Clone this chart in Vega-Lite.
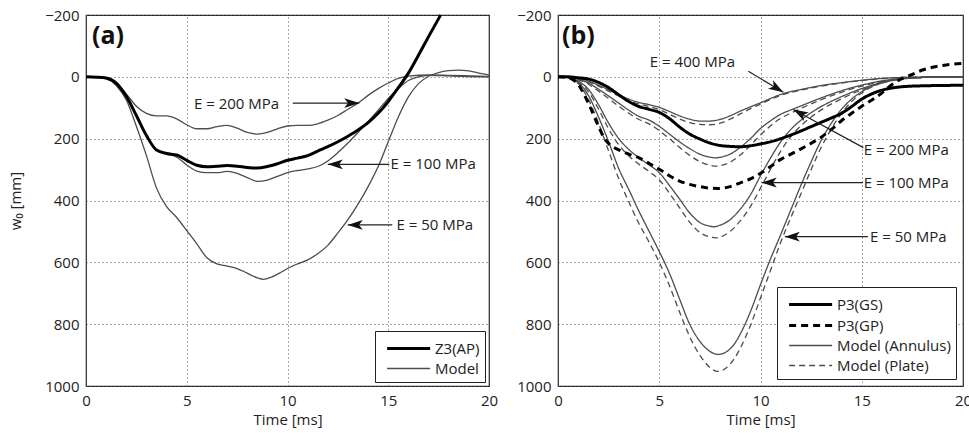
{
  "$schema": "https://vega.github.io/schema/vega-lite/v6.json",
  "padding": {"left": 8, "top": 7, "right": 0, "bottom": 0},
  "background": "white",
  "config": {
    "font": "Open Sans",
    "view": {"stroke": "#222", "strokeWidth": 1.2},
    "axis": {"labelFont": "Open Sans", "titleFont": "Open Sans", "labelFontSize": 15, "titleFontSize": 15, "titleFontWeight": "normal", "labelColor": "#222", "titleColor": "#222", "grid": true, "gridDash": [1, 3], "gridColor": "#555", "gridOpacity": 1, "ticks": false, "domain": false, "labelFlush": false, "labelOverlap": false, "format": "d"},
    "legend": {"title": null, "orient": "bottom-right", "strokeColor": "#222", "fillColor": "white", "padding": 5, "symbolType": "M-0.5,0H3.5", "symbolSize": 462, "labelFontSize": 15, "labelFont": "Open Sans", "labelColor": "#222", "rowPadding": 0, "labelOffset": 30}
  },
  "datasets": {
    "a": [
      {"s":"Model","c":"m200","x":0,"y":0},{"s":"Model","c":"m200","x":0.5,"y":1},{"s":"Model","c":"m200","x":1,"y":4},{"s":"Model","c":"m200","x":1.5,"y":18},{"s":"Model","c":"m200","x":2,"y":55},{"s":"Model","c":"m200","x":2.5,"y":95},{"s":"Model","c":"m200","x":3,"y":118},{"s":"Model","c":"m200","x":3.5,"y":126},{"s":"Model","c":"m200","x":4,"y":126},{"s":"Model","c":"m200","x":4.5,"y":136},{"s":"Model","c":"m200","x":5,"y":155},{"s":"Model","c":"m200","x":5.5,"y":168},{"s":"Model","c":"m200","x":6,"y":168},{"s":"Model","c":"m200","x":6.5,"y":161},{"s":"Model","c":"m200","x":7,"y":157},{"s":"Model","c":"m200","x":7.5,"y":166},{"s":"Model","c":"m200","x":8,"y":180},{"s":"Model","c":"m200","x":8.5,"y":185},{"s":"Model","c":"m200","x":9,"y":180},{"s":"Model","c":"m200","x":9.5,"y":168},{"s":"Model","c":"m200","x":10,"y":159},{"s":"Model","c":"m200","x":10.5,"y":157},{"s":"Model","c":"m200","x":11,"y":157},{"s":"Model","c":"m200","x":11.5,"y":152},{"s":"Model","c":"m200","x":12,"y":140},{"s":"Model","c":"m200","x":12.5,"y":125},{"s":"Model","c":"m200","x":13,"y":105},{"s":"Model","c":"m200","x":13.5,"y":85},{"s":"Model","c":"m200","x":14,"y":60},{"s":"Model","c":"m200","x":14.5,"y":38},{"s":"Model","c":"m200","x":15,"y":20},{"s":"Model","c":"m200","x":15.5,"y":5},{"s":"Model","c":"m200","x":16,"y":-2},{"s":"Model","c":"m200","x":17,"y":-6},{"s":"Model","c":"m200","x":18,"y":-5},{"s":"Model","c":"m200","x":19,"y":-3},{"s":"Model","c":"m200","x":20,"y":-1},
      {"s":"Model","c":"m100","x":0,"y":0},{"s":"Model","c":"m100","x":0.5,"y":1},{"s":"Model","c":"m100","x":1,"y":4},{"s":"Model","c":"m100","x":1.5,"y":20},{"s":"Model","c":"m100","x":2,"y":63},{"s":"Model","c":"m100","x":2.5,"y":125},{"s":"Model","c":"m100","x":3,"y":190},{"s":"Model","c":"m100","x":3.5,"y":236},{"s":"Model","c":"m100","x":4,"y":249},{"s":"Model","c":"m100","x":4.5,"y":260},{"s":"Model","c":"m100","x":5,"y":285},{"s":"Model","c":"m100","x":5.5,"y":305},{"s":"Model","c":"m100","x":6,"y":310},{"s":"Model","c":"m100","x":6.5,"y":310},{"s":"Model","c":"m100","x":7,"y":306},{"s":"Model","c":"m100","x":7.5,"y":312},{"s":"Model","c":"m100","x":8,"y":326},{"s":"Model","c":"m100","x":8.5,"y":338},{"s":"Model","c":"m100","x":9,"y":334},{"s":"Model","c":"m100","x":9.5,"y":322},{"s":"Model","c":"m100","x":10,"y":310},{"s":"Model","c":"m100","x":10.5,"y":303},{"s":"Model","c":"m100","x":11,"y":298},{"s":"Model","c":"m100","x":11.5,"y":290},{"s":"Model","c":"m100","x":12,"y":272},{"s":"Model","c":"m100","x":12.5,"y":245},{"s":"Model","c":"m100","x":13,"y":214},{"s":"Model","c":"m100","x":13.5,"y":180},{"s":"Model","c":"m100","x":14,"y":145},{"s":"Model","c":"m100","x":14.5,"y":108},{"s":"Model","c":"m100","x":15,"y":70},{"s":"Model","c":"m100","x":15.5,"y":38},{"s":"Model","c":"m100","x":16,"y":12},{"s":"Model","c":"m100","x":16.5,"y":0},{"s":"Model","c":"m100","x":17,"y":-5},{"s":"Model","c":"m100","x":18,"y":-3},{"s":"Model","c":"m100","x":19,"y":-1},{"s":"Model","c":"m100","x":20,"y":0},
      {"s":"Model","c":"m50","x":0,"y":0},{"s":"Model","c":"m50","x":0.5,"y":1},{"s":"Model","c":"m50","x":1,"y":6},{"s":"Model","c":"m50","x":1.5,"y":28},{"s":"Model","c":"m50","x":2,"y":75},{"s":"Model","c":"m50","x":2.5,"y":160},{"s":"Model","c":"m50","x":3,"y":255},{"s":"Model","c":"m50","x":3.5,"y":360},{"s":"Model","c":"m50","x":4,"y":420},{"s":"Model","c":"m50","x":4.5,"y":455},{"s":"Model","c":"m50","x":5,"y":497},{"s":"Model","c":"m50","x":5.5,"y":540},{"s":"Model","c":"m50","x":6,"y":585},{"s":"Model","c":"m50","x":6.5,"y":605},{"s":"Model","c":"m50","x":7,"y":612},{"s":"Model","c":"m50","x":7.5,"y":620},{"s":"Model","c":"m50","x":8,"y":635},{"s":"Model","c":"m50","x":8.5,"y":650},{"s":"Model","c":"m50","x":8.8,"y":655},{"s":"Model","c":"m50","x":9.2,"y":648},{"s":"Model","c":"m50","x":9.6,"y":635},{"s":"Model","c":"m50","x":10,"y":620},{"s":"Model","c":"m50","x":10.5,"y":605},{"s":"Model","c":"m50","x":11,"y":592},{"s":"Model","c":"m50","x":11.5,"y":572},{"s":"Model","c":"m50","x":12,"y":545},{"s":"Model","c":"m50","x":12.5,"y":505},{"s":"Model","c":"m50","x":13,"y":462},{"s":"Model","c":"m50","x":13.5,"y":412},{"s":"Model","c":"m50","x":14,"y":355},{"s":"Model","c":"m50","x":14.5,"y":290},{"s":"Model","c":"m50","x":15,"y":210},{"s":"Model","c":"m50","x":15.5,"y":130},{"s":"Model","c":"m50","x":16,"y":65},{"s":"Model","c":"m50","x":16.5,"y":22},{"s":"Model","c":"m50","x":17,"y":-2},{"s":"Model","c":"m50","x":17.5,"y":-14},{"s":"Model","c":"m50","x":18,"y":-20},{"s":"Model","c":"m50","x":18.5,"y":-22},{"s":"Model","c":"m50","x":19,"y":-19},{"s":"Model","c":"m50","x":19.5,"y":-12},{"s":"Model","c":"m50","x":20,"y":-6},
      {"s":"Z3(AP)","c":"z3","x":0,"y":0},{"s":"Z3(AP)","c":"z3","x":0.5,"y":1},{"s":"Z3(AP)","c":"z3","x":1,"y":4},{"s":"Z3(AP)","c":"z3","x":1.5,"y":20},{"s":"Z3(AP)","c":"z3","x":2,"y":63},{"s":"Z3(AP)","c":"z3","x":2.5,"y":125},{"s":"Z3(AP)","c":"z3","x":3,"y":190},{"s":"Z3(AP)","c":"z3","x":3.5,"y":237},{"s":"Z3(AP)","c":"z3","x":4,"y":248},{"s":"Z3(AP)","c":"z3","x":4.5,"y":253},{"s":"Z3(AP)","c":"z3","x":5,"y":270},{"s":"Z3(AP)","c":"z3","x":5.5,"y":286},{"s":"Z3(AP)","c":"z3","x":6,"y":291},{"s":"Z3(AP)","c":"z3","x":6.5,"y":289},{"s":"Z3(AP)","c":"z3","x":7,"y":287},{"s":"Z3(AP)","c":"z3","x":7.5,"y":289},{"s":"Z3(AP)","c":"z3","x":8,"y":293},{"s":"Z3(AP)","c":"z3","x":8.5,"y":295},{"s":"Z3(AP)","c":"z3","x":9,"y":290},{"s":"Z3(AP)","c":"z3","x":9.5,"y":281},{"s":"Z3(AP)","c":"z3","x":10,"y":270},{"s":"Z3(AP)","c":"z3","x":10.5,"y":263},{"s":"Z3(AP)","c":"z3","x":11,"y":255},{"s":"Z3(AP)","c":"z3","x":11.5,"y":240},{"s":"Z3(AP)","c":"z3","x":12,"y":226},{"s":"Z3(AP)","c":"z3","x":12.5,"y":210},{"s":"Z3(AP)","c":"z3","x":13,"y":192},{"s":"Z3(AP)","c":"z3","x":13.5,"y":172},{"s":"Z3(AP)","c":"z3","x":14,"y":148},{"s":"Z3(AP)","c":"z3","x":14.5,"y":118},{"s":"Z3(AP)","c":"z3","x":15,"y":80},{"s":"Z3(AP)","c":"z3","x":15.5,"y":35},{"s":"Z3(AP)","c":"z3","x":16,"y":-12},{"s":"Z3(AP)","c":"z3","x":16.5,"y":-70},{"s":"Z3(AP)","c":"z3","x":17,"y":-130},{"s":"Z3(AP)","c":"z3","x":17.6,"y":-200}
    ],
    "b": [
      {"s":"Model (Annulus)","c":"a400","x":0,"y":0},{"s":"Model (Annulus)","c":"a400","x":0.5,"y":1},{"s":"Model (Annulus)","c":"a400","x":1,"y":5},{"s":"Model (Annulus)","c":"a400","x":1.5,"y":14},{"s":"Model (Annulus)","c":"a400","x":2,"y":27},{"s":"Model (Annulus)","c":"a400","x":2.5,"y":42},{"s":"Model (Annulus)","c":"a400","x":3,"y":58},{"s":"Model (Annulus)","c":"a400","x":3.5,"y":72},{"s":"Model (Annulus)","c":"a400","x":4,"y":83},{"s":"Model (Annulus)","c":"a400","x":4.5,"y":90},{"s":"Model (Annulus)","c":"a400","x":5,"y":99},{"s":"Model (Annulus)","c":"a400","x":5.5,"y":112},{"s":"Model (Annulus)","c":"a400","x":6,"y":126},{"s":"Model (Annulus)","c":"a400","x":6.5,"y":137},{"s":"Model (Annulus)","c":"a400","x":7,"y":143},{"s":"Model (Annulus)","c":"a400","x":7.5,"y":143},{"s":"Model (Annulus)","c":"a400","x":8,"y":138},{"s":"Model (Annulus)","c":"a400","x":8.5,"y":126},{"s":"Model (Annulus)","c":"a400","x":9,"y":111},{"s":"Model (Annulus)","c":"a400","x":9.5,"y":97},{"s":"Model (Annulus)","c":"a400","x":10,"y":84},{"s":"Model (Annulus)","c":"a400","x":10.5,"y":70},{"s":"Model (Annulus)","c":"a400","x":11,"y":57},{"s":"Model (Annulus)","c":"a400","x":11.5,"y":48},{"s":"Model (Annulus)","c":"a400","x":12,"y":41},{"s":"Model (Annulus)","c":"a400","x":13,"y":28},{"s":"Model (Annulus)","c":"a400","x":14,"y":19},{"s":"Model (Annulus)","c":"a400","x":15,"y":11},{"s":"Model (Annulus)","c":"a400","x":16,"y":5},{"s":"Model (Annulus)","c":"a400","x":17,"y":2},{"s":"Model (Annulus)","c":"a400","x":18,"y":1},{"s":"Model (Annulus)","c":"a400","x":20,"y":0},
      {"s":"Model (Plate)","c":"p400","x":0,"y":0},{"s":"Model (Plate)","c":"p400","x":1,"y":6},{"s":"Model (Plate)","c":"p400","x":1.5,"y":16},{"s":"Model (Plate)","c":"p400","x":2,"y":30},{"s":"Model (Plate)","c":"p400","x":2.5,"y":46},{"s":"Model (Plate)","c":"p400","x":3,"y":62},{"s":"Model (Plate)","c":"p400","x":3.5,"y":77},{"s":"Model (Plate)","c":"p400","x":4,"y":88},{"s":"Model (Plate)","c":"p400","x":4.5,"y":96},{"s":"Model (Plate)","c":"p400","x":5,"y":106},{"s":"Model (Plate)","c":"p400","x":5.5,"y":121},{"s":"Model (Plate)","c":"p400","x":6,"y":136},{"s":"Model (Plate)","c":"p400","x":6.5,"y":148},{"s":"Model (Plate)","c":"p400","x":7,"y":154},{"s":"Model (Plate)","c":"p400","x":7.5,"y":155},{"s":"Model (Plate)","c":"p400","x":8,"y":150},{"s":"Model (Plate)","c":"p400","x":8.5,"y":137},{"s":"Model (Plate)","c":"p400","x":9,"y":120},{"s":"Model (Plate)","c":"p400","x":9.5,"y":103},{"s":"Model (Plate)","c":"p400","x":10,"y":88},{"s":"Model (Plate)","c":"p400","x":10.5,"y":73},{"s":"Model (Plate)","c":"p400","x":11,"y":60},{"s":"Model (Plate)","c":"p400","x":12,"y":43},{"s":"Model (Plate)","c":"p400","x":13,"y":30},{"s":"Model (Plate)","c":"p400","x":14,"y":20},{"s":"Model (Plate)","c":"p400","x":15,"y":12},{"s":"Model (Plate)","c":"p400","x":16,"y":6},{"s":"Model (Plate)","c":"p400","x":17,"y":2},{"s":"Model (Plate)","c":"p400","x":18,"y":1},{"s":"Model (Plate)","c":"p400","x":20,"y":0},
      {"s":"Model (Annulus)","c":"a200","x":0,"y":0},{"s":"Model (Annulus)","c":"a200","x":0.5,"y":1},{"s":"Model (Annulus)","c":"a200","x":1,"y":8},{"s":"Model (Annulus)","c":"a200","x":1.5,"y":20},{"s":"Model (Annulus)","c":"a200","x":2,"y":40},{"s":"Model (Annulus)","c":"a200","x":2.5,"y":62},{"s":"Model (Annulus)","c":"a200","x":3,"y":85},{"s":"Model (Annulus)","c":"a200","x":3.5,"y":108},{"s":"Model (Annulus)","c":"a200","x":4,"y":128},{"s":"Model (Annulus)","c":"a200","x":4.5,"y":140},{"s":"Model (Annulus)","c":"a200","x":5,"y":160},{"s":"Model (Annulus)","c":"a200","x":5.5,"y":185},{"s":"Model (Annulus)","c":"a200","x":6,"y":210},{"s":"Model (Annulus)","c":"a200","x":6.5,"y":232},{"s":"Model (Annulus)","c":"a200","x":7,"y":250},{"s":"Model (Annulus)","c":"a200","x":7.5,"y":260},{"s":"Model (Annulus)","c":"a200","x":7.8,"y":262},{"s":"Model (Annulus)","c":"a200","x":8.2,"y":257},{"s":"Model (Annulus)","c":"a200","x":8.5,"y":250},{"s":"Model (Annulus)","c":"a200","x":9,"y":228},{"s":"Model (Annulus)","c":"a200","x":9.5,"y":200},{"s":"Model (Annulus)","c":"a200","x":10,"y":167},{"s":"Model (Annulus)","c":"a200","x":10.5,"y":142},{"s":"Model (Annulus)","c":"a200","x":11,"y":121},{"s":"Model (Annulus)","c":"a200","x":11.5,"y":107},{"s":"Model (Annulus)","c":"a200","x":12,"y":94},{"s":"Model (Annulus)","c":"a200","x":13,"y":68},{"s":"Model (Annulus)","c":"a200","x":14,"y":45},{"s":"Model (Annulus)","c":"a200","x":15,"y":27},{"s":"Model (Annulus)","c":"a200","x":16,"y":13},{"s":"Model (Annulus)","c":"a200","x":17,"y":5},{"s":"Model (Annulus)","c":"a200","x":18,"y":2},{"s":"Model (Annulus)","c":"a200","x":20,"y":0},
      {"s":"Model (Plate)","c":"p200","x":0,"y":0},{"s":"Model (Plate)","c":"p200","x":1,"y":10},{"s":"Model (Plate)","c":"p200","x":1.5,"y":24},{"s":"Model (Plate)","c":"p200","x":2,"y":46},{"s":"Model (Plate)","c":"p200","x":2.5,"y":70},{"s":"Model (Plate)","c":"p200","x":3,"y":95},{"s":"Model (Plate)","c":"p200","x":3.5,"y":118},{"s":"Model (Plate)","c":"p200","x":4,"y":138},{"s":"Model (Plate)","c":"p200","x":4.5,"y":152},{"s":"Model (Plate)","c":"p200","x":5,"y":174},{"s":"Model (Plate)","c":"p200","x":5.5,"y":200},{"s":"Model (Plate)","c":"p200","x":6,"y":228},{"s":"Model (Plate)","c":"p200","x":6.5,"y":254},{"s":"Model (Plate)","c":"p200","x":7,"y":274},{"s":"Model (Plate)","c":"p200","x":7.5,"y":286},{"s":"Model (Plate)","c":"p200","x":7.8,"y":289},{"s":"Model (Plate)","c":"p200","x":8.2,"y":284},{"s":"Model (Plate)","c":"p200","x":8.5,"y":276},{"s":"Model (Plate)","c":"p200","x":9,"y":253},{"s":"Model (Plate)","c":"p200","x":9.5,"y":222},{"s":"Model (Plate)","c":"p200","x":10,"y":188},{"s":"Model (Plate)","c":"p200","x":10.5,"y":158},{"s":"Model (Plate)","c":"p200","x":11,"y":134},{"s":"Model (Plate)","c":"p200","x":11.5,"y":117},{"s":"Model (Plate)","c":"p200","x":12,"y":102},{"s":"Model (Plate)","c":"p200","x":13,"y":74},{"s":"Model (Plate)","c":"p200","x":14,"y":50},{"s":"Model (Plate)","c":"p200","x":15,"y":30},{"s":"Model (Plate)","c":"p200","x":16,"y":15},{"s":"Model (Plate)","c":"p200","x":17,"y":6},{"s":"Model (Plate)","c":"p200","x":18,"y":2},{"s":"Model (Plate)","c":"p200","x":20,"y":0},
      {"s":"Model (Annulus)","c":"a100","x":0,"y":0},{"s":"Model (Annulus)","c":"a100","x":0.5,"y":2},{"s":"Model (Annulus)","c":"a100","x":1,"y":14},{"s":"Model (Annulus)","c":"a100","x":1.5,"y":40},{"s":"Model (Annulus)","c":"a100","x":2,"y":90},{"s":"Model (Annulus)","c":"a100","x":2.5,"y":150},{"s":"Model (Annulus)","c":"a100","x":3,"y":200},{"s":"Model (Annulus)","c":"a100","x":3.5,"y":235},{"s":"Model (Annulus)","c":"a100","x":4,"y":262},{"s":"Model (Annulus)","c":"a100","x":4.5,"y":285},{"s":"Model (Annulus)","c":"a100","x":5,"y":310},{"s":"Model (Annulus)","c":"a100","x":5.5,"y":351},{"s":"Model (Annulus)","c":"a100","x":6,"y":395},{"s":"Model (Annulus)","c":"a100","x":6.5,"y":440},{"s":"Model (Annulus)","c":"a100","x":7,"y":471},{"s":"Model (Annulus)","c":"a100","x":7.5,"y":483},{"s":"Model (Annulus)","c":"a100","x":7.7,"y":485},{"s":"Model (Annulus)","c":"a100","x":8,"y":480},{"s":"Model (Annulus)","c":"a100","x":8.5,"y":462},{"s":"Model (Annulus)","c":"a100","x":9,"y":428},{"s":"Model (Annulus)","c":"a100","x":9.5,"y":382},{"s":"Model (Annulus)","c":"a100","x":10,"y":320},{"s":"Model (Annulus)","c":"a100","x":10.5,"y":262},{"s":"Model (Annulus)","c":"a100","x":11,"y":210},{"s":"Model (Annulus)","c":"a100","x":11.5,"y":170},{"s":"Model (Annulus)","c":"a100","x":12,"y":140},{"s":"Model (Annulus)","c":"a100","x":12.5,"y":116},{"s":"Model (Annulus)","c":"a100","x":13,"y":96},{"s":"Model (Annulus)","c":"a100","x":14,"y":64},{"s":"Model (Annulus)","c":"a100","x":15,"y":38},{"s":"Model (Annulus)","c":"a100","x":16,"y":18},{"s":"Model (Annulus)","c":"a100","x":17,"y":6},{"s":"Model (Annulus)","c":"a100","x":18,"y":2},{"s":"Model (Annulus)","c":"a100","x":20,"y":0},
      {"s":"Model (Plate)","c":"p100","x":0,"y":0},{"s":"Model (Plate)","c":"p100","x":0.5,"y":3},{"s":"Model (Plate)","c":"p100","x":1,"y":17},{"s":"Model (Plate)","c":"p100","x":1.5,"y":48},{"s":"Model (Plate)","c":"p100","x":2,"y":104},{"s":"Model (Plate)","c":"p100","x":2.5,"y":168},{"s":"Model (Plate)","c":"p100","x":3,"y":220},{"s":"Model (Plate)","c":"p100","x":3.5,"y":256},{"s":"Model (Plate)","c":"p100","x":4,"y":283},{"s":"Model (Plate)","c":"p100","x":4.5,"y":306},{"s":"Model (Plate)","c":"p100","x":5,"y":333},{"s":"Model (Plate)","c":"p100","x":5.5,"y":376},{"s":"Model (Plate)","c":"p100","x":6,"y":423},{"s":"Model (Plate)","c":"p100","x":6.5,"y":470},{"s":"Model (Plate)","c":"p100","x":7,"y":503},{"s":"Model (Plate)","c":"p100","x":7.5,"y":518},{"s":"Model (Plate)","c":"p100","x":7.8,"y":521},{"s":"Model (Plate)","c":"p100","x":8.1,"y":516},{"s":"Model (Plate)","c":"p100","x":8.5,"y":500},{"s":"Model (Plate)","c":"p100","x":9,"y":466},{"s":"Model (Plate)","c":"p100","x":9.5,"y":420},{"s":"Model (Plate)","c":"p100","x":10,"y":360},{"s":"Model (Plate)","c":"p100","x":10.5,"y":298},{"s":"Model (Plate)","c":"p100","x":11,"y":240},{"s":"Model (Plate)","c":"p100","x":11.5,"y":193},{"s":"Model (Plate)","c":"p100","x":12,"y":158},{"s":"Model (Plate)","c":"p100","x":12.5,"y":130},{"s":"Model (Plate)","c":"p100","x":13,"y":107},{"s":"Model (Plate)","c":"p100","x":14,"y":71},{"s":"Model (Plate)","c":"p100","x":15,"y":42},{"s":"Model (Plate)","c":"p100","x":16,"y":20},{"s":"Model (Plate)","c":"p100","x":17,"y":7},{"s":"Model (Plate)","c":"p100","x":18,"y":2},{"s":"Model (Plate)","c":"p100","x":20,"y":0},
      {"s":"Model (Annulus)","c":"a50","x":0,"y":0},{"s":"Model (Annulus)","c":"a50","x":0.5,"y":3},{"s":"Model (Annulus)","c":"a50","x":1,"y":18},{"s":"Model (Annulus)","c":"a50","x":1.5,"y":60},{"s":"Model (Annulus)","c":"a50","x":2,"y":130},{"s":"Model (Annulus)","c":"a50","x":2.5,"y":210},{"s":"Model (Annulus)","c":"a50","x":3,"y":297},{"s":"Model (Annulus)","c":"a50","x":3.5,"y":365},{"s":"Model (Annulus)","c":"a50","x":4,"y":435},{"s":"Model (Annulus)","c":"a50","x":4.5,"y":500},{"s":"Model (Annulus)","c":"a50","x":5,"y":565},{"s":"Model (Annulus)","c":"a50","x":5.5,"y":635},{"s":"Model (Annulus)","c":"a50","x":6,"y":718},{"s":"Model (Annulus)","c":"a50","x":6.5,"y":800},{"s":"Model (Annulus)","c":"a50","x":7,"y":855},{"s":"Model (Annulus)","c":"a50","x":7.5,"y":888},{"s":"Model (Annulus)","c":"a50","x":7.9,"y":898},{"s":"Model (Annulus)","c":"a50","x":8.3,"y":890},{"s":"Model (Annulus)","c":"a50","x":8.7,"y":865},{"s":"Model (Annulus)","c":"a50","x":9,"y":832},{"s":"Model (Annulus)","c":"a50","x":9.5,"y":760},{"s":"Model (Annulus)","c":"a50","x":10,"y":672},{"s":"Model (Annulus)","c":"a50","x":10.5,"y":588},{"s":"Model (Annulus)","c":"a50","x":11,"y":510},{"s":"Model (Annulus)","c":"a50","x":11.5,"y":430},{"s":"Model (Annulus)","c":"a50","x":12,"y":350},{"s":"Model (Annulus)","c":"a50","x":12.5,"y":275},{"s":"Model (Annulus)","c":"a50","x":13,"y":205},{"s":"Model (Annulus)","c":"a50","x":13.5,"y":150},{"s":"Model (Annulus)","c":"a50","x":14,"y":105},{"s":"Model (Annulus)","c":"a50","x":14.5,"y":72},{"s":"Model (Annulus)","c":"a50","x":15,"y":48},{"s":"Model (Annulus)","c":"a50","x":15.5,"y":30},{"s":"Model (Annulus)","c":"a50","x":16,"y":18},{"s":"Model (Annulus)","c":"a50","x":17,"y":6},{"s":"Model (Annulus)","c":"a50","x":18,"y":2},{"s":"Model (Annulus)","c":"a50","x":20,"y":0},
      {"s":"Model (Plate)","c":"p50","x":0,"y":0},{"s":"Model (Plate)","c":"p50","x":0.5,"y":4},{"s":"Model (Plate)","c":"p50","x":1,"y":22},{"s":"Model (Plate)","c":"p50","x":1.5,"y":72},{"s":"Model (Plate)","c":"p50","x":2,"y":150},{"s":"Model (Plate)","c":"p50","x":2.5,"y":240},{"s":"Model (Plate)","c":"p50","x":3,"y":330},{"s":"Model (Plate)","c":"p50","x":3.5,"y":405},{"s":"Model (Plate)","c":"p50","x":4,"y":475},{"s":"Model (Plate)","c":"p50","x":4.5,"y":535},{"s":"Model (Plate)","c":"p50","x":5,"y":600},{"s":"Model (Plate)","c":"p50","x":5.5,"y":675},{"s":"Model (Plate)","c":"p50","x":6,"y":760},{"s":"Model (Plate)","c":"p50","x":6.5,"y":840},{"s":"Model (Plate)","c":"p50","x":7,"y":900},{"s":"Model (Plate)","c":"p50","x":7.5,"y":940},{"s":"Model (Plate)","c":"p50","x":7.9,"y":953},{"s":"Model (Plate)","c":"p50","x":8.3,"y":942},{"s":"Model (Plate)","c":"p50","x":8.7,"y":912},{"s":"Model (Plate)","c":"p50","x":9,"y":878},{"s":"Model (Plate)","c":"p50","x":9.5,"y":805},{"s":"Model (Plate)","c":"p50","x":10,"y":715},{"s":"Model (Plate)","c":"p50","x":10.5,"y":625},{"s":"Model (Plate)","c":"p50","x":11,"y":535},{"s":"Model (Plate)","c":"p50","x":11.5,"y":455},{"s":"Model (Plate)","c":"p50","x":12,"y":378},{"s":"Model (Plate)","c":"p50","x":12.5,"y":300},{"s":"Model (Plate)","c":"p50","x":13,"y":228},{"s":"Model (Plate)","c":"p50","x":13.5,"y":168},{"s":"Model (Plate)","c":"p50","x":14,"y":118},{"s":"Model (Plate)","c":"p50","x":14.5,"y":80},{"s":"Model (Plate)","c":"p50","x":15,"y":52},{"s":"Model (Plate)","c":"p50","x":15.5,"y":33},{"s":"Model (Plate)","c":"p50","x":16,"y":20},{"s":"Model (Plate)","c":"p50","x":17,"y":7},{"s":"Model (Plate)","c":"p50","x":18,"y":2},{"s":"Model (Plate)","c":"p50","x":20,"y":0},
      {"s":"P3(GS)","c":"gs","x":0,"y":0},{"s":"P3(GS)","c":"gs","x":0.5,"y":0},{"s":"P3(GS)","c":"gs","x":1,"y":3},{"s":"P3(GS)","c":"gs","x":1.5,"y":7},{"s":"P3(GS)","c":"gs","x":2,"y":18},{"s":"P3(GS)","c":"gs","x":2.5,"y":35},{"s":"P3(GS)","c":"gs","x":3,"y":58},{"s":"P3(GS)","c":"gs","x":3.5,"y":80},{"s":"P3(GS)","c":"gs","x":4,"y":96},{"s":"P3(GS)","c":"gs","x":4.5,"y":105},{"s":"P3(GS)","c":"gs","x":5,"y":115},{"s":"P3(GS)","c":"gs","x":5.5,"y":135},{"s":"P3(GS)","c":"gs","x":6,"y":162},{"s":"P3(GS)","c":"gs","x":6.5,"y":185},{"s":"P3(GS)","c":"gs","x":7,"y":201},{"s":"P3(GS)","c":"gs","x":7.5,"y":214},{"s":"P3(GS)","c":"gs","x":8,"y":222},{"s":"P3(GS)","c":"gs","x":8.5,"y":225},{"s":"P3(GS)","c":"gs","x":9,"y":226},{"s":"P3(GS)","c":"gs","x":9.5,"y":223},{"s":"P3(GS)","c":"gs","x":10,"y":217},{"s":"P3(GS)","c":"gs","x":10.5,"y":210},{"s":"P3(GS)","c":"gs","x":11,"y":200},{"s":"P3(GS)","c":"gs","x":11.5,"y":188},{"s":"P3(GS)","c":"gs","x":12,"y":175},{"s":"P3(GS)","c":"gs","x":12.5,"y":161},{"s":"P3(GS)","c":"gs","x":13,"y":147},{"s":"P3(GS)","c":"gs","x":13.5,"y":133},{"s":"P3(GS)","c":"gs","x":14,"y":118},{"s":"P3(GS)","c":"gs","x":14.5,"y":96},{"s":"P3(GS)","c":"gs","x":15,"y":72},{"s":"P3(GS)","c":"gs","x":15.5,"y":55},{"s":"P3(GS)","c":"gs","x":16,"y":43},{"s":"P3(GS)","c":"gs","x":16.5,"y":36},{"s":"P3(GS)","c":"gs","x":17,"y":32},{"s":"P3(GS)","c":"gs","x":18,"y":29},{"s":"P3(GS)","c":"gs","x":19,"y":28},{"s":"P3(GS)","c":"gs","x":20,"y":27},
      {"s":"P3(GP)","c":"gp","x":0,"y":0},{"s":"P3(GP)","c":"gp","x":0.5,"y":3},{"s":"P3(GP)","c":"gp","x":0.8,"y":12},{"s":"P3(GP)","c":"gp","x":1,"y":25},{"s":"P3(GP)","c":"gp","x":1.3,"y":58},{"s":"P3(GP)","c":"gp","x":1.6,"y":100},{"s":"P3(GP)","c":"gp","x":2,"y":160},{"s":"P3(GP)","c":"gp","x":2.3,"y":200},{"s":"P3(GP)","c":"gp","x":2.6,"y":222},{"s":"P3(GP)","c":"gp","x":3,"y":236},{"s":"P3(GP)","c":"gp","x":3.5,"y":250},{"s":"P3(GP)","c":"gp","x":4,"y":262},{"s":"P3(GP)","c":"gp","x":4.5,"y":280},{"s":"P3(GP)","c":"gp","x":5,"y":299},{"s":"P3(GP)","c":"gp","x":5.5,"y":320},{"s":"P3(GP)","c":"gp","x":6,"y":337},{"s":"P3(GP)","c":"gp","x":6.5,"y":348},{"s":"P3(GP)","c":"gp","x":7,"y":355},{"s":"P3(GP)","c":"gp","x":7.5,"y":360},{"s":"P3(GP)","c":"gp","x":7.9,"y":361},{"s":"P3(GP)","c":"gp","x":8.5,"y":355},{"s":"P3(GP)","c":"gp","x":9,"y":343},{"s":"P3(GP)","c":"gp","x":9.5,"y":330},{"s":"P3(GP)","c":"gp","x":10,"y":312},{"s":"P3(GP)","c":"gp","x":10.5,"y":290},{"s":"P3(GP)","c":"gp","x":11,"y":267},{"s":"P3(GP)","c":"gp","x":11.5,"y":250},{"s":"P3(GP)","c":"gp","x":12,"y":233},{"s":"P3(GP)","c":"gp","x":12.5,"y":215},{"s":"P3(GP)","c":"gp","x":13,"y":195},{"s":"P3(GP)","c":"gp","x":13.5,"y":170},{"s":"P3(GP)","c":"gp","x":14,"y":142},{"s":"P3(GP)","c":"gp","x":14.5,"y":118},{"s":"P3(GP)","c":"gp","x":15,"y":95},{"s":"P3(GP)","c":"gp","x":15.5,"y":75},{"s":"P3(GP)","c":"gp","x":16,"y":52},{"s":"P3(GP)","c":"gp","x":16.5,"y":25},{"s":"P3(GP)","c":"gp","x":17,"y":5},{"s":"P3(GP)","c":"gp","x":17.5,"y":-8},{"s":"P3(GP)","c":"gp","x":18,"y":-22},{"s":"P3(GP)","c":"gp","x":18.5,"y":-31},{"s":"P3(GP)","c":"gp","x":19,"y":-37},{"s":"P3(GP)","c":"gp","x":19.5,"y":-41},{"s":"P3(GP)","c":"gp","x":20,"y":-43}
    ],
    "ta": [
      {"t":"E = 200 MPa","x":7.47,"y":88},{"t":"E = 100 MPa","x":17.23,"y":283},{"t":"E = 50 MPa","x":17.31,"y":479}
    ],
    "tb": [
      {"t":"E = 400 MPa","x":6.64,"y":-48},{"t":"E = 200 MPa","x":17.2,"y":236},{"t":"E = 100 MPa","x":17.2,"y":342},{"t":"E = 50 MPa","x":17.3,"y":517}
    ],
    "ra": [
      {"x":10.26,"y":85,"x2":13.56,"y2":85,"d":"r"},{"x":15.05,"y":283,"x2":12.0,"y2":283,"d":"l"},{"x":15.2,"y":479,"x2":12.99,"y2":479,"d":"l"}
    ],
    "rb": [
      {"x":9.4,"y":-18,"x2":11.13,"y2":50,"d":"dr"},{"x":15.08,"y":229,"x2":11.62,"y2":105.6,"d":"ul"},{"x":15.06,"y":342,"x2":10.06,"y2":342,"d":"l"},{"x":15.3,"y":517,"x2":11.2,"y2":517,"d":"l"}
    ],
    "la": [{"t":"(a)","x":0.3,"y":-133}],
    "lb": [{"t":"(b)","x":0.2,"y":-133}]
  },
  "hconcat": [
    {
      "width": 403, "height": 371,
      "layer": [
        {
          "data": {"name": "a"},
          "mark": {"type": "line", "interpolate": "monotone"},
          "encoding": {
            "x": {"field": "x", "type": "quantitative", "scale": {"domain": [0, 20], "nice": false}, "axis": {"title": "Time [ms]", "values": [0, 5, 10, 15, 20], "labelPadding": 7, "titlePadding": 4}},
            "y": {"field": "y", "type": "quantitative", "scale": {"domain": [-200, 1000], "reverse": true, "nice": false}, "axis": {"title": "w₀ [mm]", "values": [-200, 0, 200, 400, 600, 800, 1000], "labelPadding": 7, "titlePadding": 21}},
            "detail": {"field": "c"},
            "color": {"field": "s", "type": "nominal", "scale": {"type": "ordinal", "domain": ["Z3(AP)", "Model"], "range": ["#000000", "#4d4d4d"]}, "legend": {"offset": 4}},
            "strokeWidth": {"field": "s", "type": "nominal", "scale": {"type": "ordinal", "domain": ["Z3(AP)", "Model"], "range": [3, 1.3]}, "legend": {"offset": 4}}
          }
        },
        {
          "data": {"name": "ra"},
          "mark": {"type": "rule", "color": "#222", "strokeWidth": 1.2},
          "encoding": {"x": {"field": "x", "type": "quantitative"}, "y": {"field": "y", "type": "quantitative"}, "x2": {"field": "x2"}, "y2": {"field": "y2"}}
        },
        {
          "data": {"name": "ra"},
          "mark": {"type": "point", "shape": "M0,0L-1,-0.33L-0.75,0L-1,0.33Z", "filled": true, "color": "#111", "opacity": 1, "size": 900},
          "encoding": {"x": {"field": "x2", "type": "quantitative"}, "y": {"field": "y2", "type": "quantitative"}, "angle": {"field": "d", "type": "nominal", "scale": {"type": "ordinal", "domain": ["r", "l", "dr", "ul"], "range": [0, 180, 31, 209]}, "legend": null}}
        },
        {
          "data": {"name": "ta"},
          "mark": {"type": "text", "fontSize": 15, "font": "Open Sans", "color": "#222", "align": "center", "baseline": "middle"},
          "encoding": {"x": {"field": "x", "type": "quantitative"}, "y": {"field": "y", "type": "quantitative"}, "text": {"field": "t"}}
        },
        {
          "data": {"name": "la"},
          "mark": {"type": "text", "fontSize": 25, "fontWeight": "bold", "font": "Open Sans", "color": "#111", "align": "left", "baseline": "middle"},
          "encoding": {"x": {"field": "x", "type": "quantitative"}, "y": {"field": "y", "type": "quantitative"}, "text": {"field": "t"}}
        }
      ]
    },
    {
      "width": 405, "height": 371,
      "layer": [
        {
          "data": {"name": "b"},
          "mark": {"type": "line", "interpolate": "monotone"},
          "encoding": {
            "x": {"field": "x", "type": "quantitative", "scale": {"domain": [0, 20], "nice": false}, "axis": {"title": "Time [ms]", "values": [0, 5, 10, 15, 20], "labelPadding": 7, "titlePadding": 4}},
            "y": {"field": "y", "type": "quantitative", "scale": {"domain": [-200, 1000], "reverse": true, "nice": false}, "axis": {"title": null, "values": [-200, 0, 200, 400, 600, 800, 1000], "labelPadding": 7}},
            "detail": {"field": "c"},
            "color": {"field": "s", "type": "nominal", "scale": {"type": "ordinal", "domain": ["P3(GS)", "P3(GP)", "Model (Annulus)", "Model (Plate)"], "range": ["#000000", "#000000", "#4d4d4d", "#4d4d4d"]}, "legend": {"offset": 7}},
            "strokeWidth": {"field": "s", "type": "nominal", "scale": {"type": "ordinal", "domain": ["P3(GS)", "P3(GP)", "Model (Annulus)", "Model (Plate)"], "range": [3, 3, 1.3, 1.3]}, "legend": {"offset": 7}},
            "strokeDash": {"field": "s", "type": "nominal", "scale": {"type": "ordinal", "domain": ["P3(GS)", "P3(GP)", "Model (Annulus)", "Model (Plate)"], "range": [[1, 0], [7, 5], [1, 0], [6, 4]]}, "legend": {"offset": 7}}
          }
        },
        {
          "data": {"name": "rb"},
          "mark": {"type": "rule", "color": "#222", "strokeWidth": 1.2},
          "encoding": {"x": {"field": "x", "type": "quantitative"}, "y": {"field": "y", "type": "quantitative"}, "x2": {"field": "x2"}, "y2": {"field": "y2"}}
        },
        {
          "data": {"name": "rb"},
          "mark": {"type": "point", "shape": "M0,0L-1,-0.33L-0.75,0L-1,0.33Z", "filled": true, "color": "#111", "opacity": 1, "size": 900},
          "encoding": {"x": {"field": "x2", "type": "quantitative"}, "y": {"field": "y2", "type": "quantitative"}, "angle": {"field": "d", "type": "nominal", "scale": {"type": "ordinal", "domain": ["r", "l", "dr", "ul"], "range": [0, 180, 31, 209]}, "legend": null}}
        },
        {
          "data": {"name": "tb"},
          "mark": {"type": "text", "fontSize": 15, "font": "Open Sans", "color": "#222", "align": "center", "baseline": "middle"},
          "encoding": {"x": {"field": "x", "type": "quantitative"}, "y": {"field": "y", "type": "quantitative"}, "text": {"field": "t"}}
        },
        {
          "data": {"name": "lb"},
          "mark": {"type": "text", "fontSize": 25, "fontWeight": "bold", "font": "Open Sans", "color": "#111", "align": "left", "baseline": "middle"},
          "encoding": {"x": {"field": "x", "type": "quantitative"}, "y": {"field": "y", "type": "quantitative"}, "text": {"field": "t"}}
        }
      ]
    }
  ],
  "spacing": 69,
  "bounds": "flush",
  "resolve": {
    "scale": {"color": "independent", "strokeWidth": "independent", "strokeDash": "independent", "angle": "independent"},
    "legend": {"color": "independent", "strokeWidth": "independent", "strokeDash": "independent"}
  }
}
